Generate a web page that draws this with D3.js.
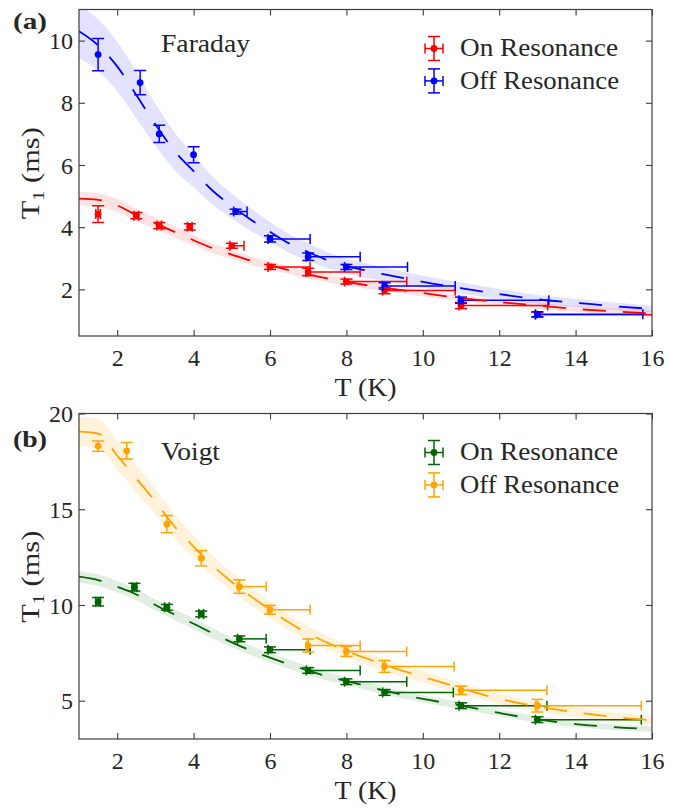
<!DOCTYPE html>
<html><head><meta charset="utf-8">
<script src="https://cdn.jsdelivr.net/npm/d3@7"></script>
<style>body{margin:0;background:#fff} svg{display:block}</style>
</head><body>
<svg id="chart" width="689" height="808"></svg>
<script>
// ---------------- DATA ----------------
const xTicks = [2, 4, 6, 8, 10, 12, 14, 16];
const yTicksA = [2, 4, 6, 8, 10];
const yTicksB = [5, 10, 15, 20];
const legendLabels = ["On Resonance", "Off Resonance"];
const panelTitles = ["Faraday", "Voigt"];
const panelTags = ["(a)", "(b)"];

// Panel (a) Faraday - On Resonance (red)
const aOnT    = [1.5, 2.5, 3.1, 3.9, 5.0, 6.0, 7.0, 8.0, 9.0, 11.0, 13.0];
const aOnV    = [4.42, 4.37, 4.05, 4.01, 3.40, 2.72, 2.56, 2.25, 1.96, 1.48, 1.18];
const aOnYerr = [0.27, 0.10, 0.10, 0.10, 0.08, 0.08, 0.12, 0.08, 0.10, 0.10, 0.08];
const aOnXneg = [0.06, 0.06, 0.06, 0.06, 0.05, 0.05, 0.05, 0.05, 0.05, 0.05, 0.05];
const aOnXpos = [0.06, 0.06, 0.06, 0.06, 0.32, 1.05, 1.36, 1.58, 1.85, 2.27, 3.30];
// Panel (a) Faraday - Off Resonance (blue)
const aOffT    = [1.5, 2.6, 3.1, 4.0, 5.1, 6.0, 7.0, 8.0, 9.0, 11.0, 13.0];
const aOffV    = [9.55, 8.65, 7.00, 6.33, 4.50, 3.62, 3.05, 2.72, 2.11, 1.65, 1.20];
const aOffYerr = [0.52, 0.39, 0.28, 0.26, 0.08, 0.10, 0.12, 0.08, 0.10, 0.10, 0.08];
const aOffXneg = [0, 0, 0, 0, 0.05, 0.05, 0.05, 0.05, 0.05, 0.05, 0.05];
const aOffXpos = [0, 0, 0, 0, 0.30, 1.05, 1.36, 1.60, 1.85, 2.30, 2.76];

// Panel (b) Voigt - On Resonance (green)
const bOnT    = [1.5, 2.45, 3.3, 4.2, 5.2, 6.0, 7.0, 8.0, 9.0, 11.0, 13.0];
const bOnV    = [10.17, 10.93, 9.88, 9.53, 8.23, 7.66, 6.58, 5.99, 5.43, 4.74, 4.01];
const bOnYerr = [0.22, 0.20, 0.15, 0.15, 0.15, 0.15, 0.15, 0.15, 0.15, 0.15, 0.15];
const bOnXneg = [0.06, 0.06, 0.06, 0.06, 0.05, 0.05, 0.05, 0.05, 0.05, 0.05, 0.05];
const bOnXpos = [0.06, 0.06, 0.06, 0.06, 0.70, 1.05, 1.36, 1.58, 1.80, 2.25, 2.72];
// Panel (b) Voigt - Off Resonance (orange)
const bOffT    = [1.5, 2.25, 3.3, 4.2, 5.2, 6.0, 7.0, 8.0, 9.0, 11.0, 13.0];
const bOffV    = [18.30, 18.05, 14.22, 12.44, 10.96, 9.75, 7.88, 7.57, 6.79, 5.54, 4.74];
const bOffYerr = [0.27, 0.43, 0.45, 0.40, 0.35, 0.23, 0.34, 0.26, 0.31, 0.22, 0.33];
const bOffXneg = [0, 0, 0, 0, 0.05, 0.05, 0.05, 0.05, 0.05, 0.05, 0.05];
const bOffXpos = [0, 0, 0, 0, 0.70, 1.05, 1.36, 1.58, 1.82, 2.25, 2.72];

// Fit curves and confidence-band half widths
const fitT = [1, 1.5, 2, 2.5, 3, 3.5, 4, 4.5, 5, 5.5, 6, 6.5, 7, 7.5, 8, 8.5, 9, 9.5, 10, 11, 12, 13, 14, 15, 16];
const aOnFit   = [4.92, 4.88, 4.70, 4.39, 4.12, 3.85, 3.58, 3.32, 3.12, 2.92, 2.77, 2.62, 2.48, 2.35, 2.24, 2.14, 2.05, 1.97, 1.88, 1.72, 1.59, 1.48, 1.37, 1.29, 1.22];
const aOnBand  = [0.22, 0.22, 0.21, 0.20, 0.19, 0.18, 0.17, 0.16, 0.15, 0.14, 0.14, 0.13, 0.13, 0.12, 0.12, 0.12, 0.11, 0.11, 0.11, 0.10, 0.10, 0.10, 0.10, 0.10, 0.10];
const aOffFit  = [10.30, 9.85, 9.17, 8.25, 7.30, 6.45, 5.80, 5.17, 4.68, 4.24, 3.85, 3.48, 3.20, 2.94, 2.75, 2.61, 2.48, 2.36, 2.24, 2.04, 1.85, 1.68, 1.57, 1.46, 1.37];
const aOffBand = [0.85, 0.83, 0.80, 0.75, 0.68, 0.60, 0.52, 0.45, 0.40, 0.36, 0.32, 0.30, 0.28, 0.26, 0.24, 0.23, 0.22, 0.21, 0.20, 0.18, 0.16, 0.14, 0.13, 0.12, 0.11];
const bOnFit   = [11.48, 11.30, 10.95, 10.55, 10.00, 9.50, 9.02, 8.52, 8.05, 7.62, 7.25, 6.90, 6.57, 6.27, 6.03, 5.78, 5.52, 5.30, 5.10, 4.74, 4.36, 4.02, 3.78, 3.62, 3.52];
const bOnBand  = [0.30, 0.30, 0.30, 0.29, 0.29, 0.28, 0.28, 0.27, 0.26, 0.25, 0.25, 0.24, 0.23, 0.22, 0.21, 0.21, 0.20, 0.20, 0.19, 0.18, 0.17, 0.17, 0.16, 0.15, 0.15];
const bOffFit  = [19.05, 18.95, 17.80, 16.60, 15.40, 14.10, 13.05, 12.05, 11.20, 10.45, 9.75, 9.08, 8.50, 8.03, 7.60, 7.22, 6.88, 6.54, 6.25, 5.65, 5.10, 4.70, 4.40, 4.15, 3.98];
const bOffBand = [0.78, 0.77, 0.74, 0.70, 0.66, 0.61, 0.57, 0.53, 0.49, 0.46, 0.43, 0.40, 0.38, 0.36, 0.34, 0.33, 0.32, 0.31, 0.30, 0.28, 0.27, 0.26, 0.25, 0.24, 0.24];

// ---------------- DRAWING ----------------
const FONT = "'Liberation Serif', 'Times New Roman', serif";
const TXT = "#262626";
const AX = "#3c3c3c";
const svg = d3.select("#chart");
const xL = 79, xR = 652;

const panels = [
  { top: 9.5, bottom: 336, ydom: [0.5, 11], yticks: yTicksA, title: panelTitles[0], tag: panelTags[0],
    tagY: 29, titleY: 52, titleW: 89, legY: 48.5,
    series: [
      { T: aOnT, V: aOnV, yerr: aOnYerr, xneg: aOnXneg, xpos: aOnXpos, fit: aOnFit, band: aOnBand, color: "#ff0000", bandOp: 0.11 },
      { T: aOffT, V: aOffV, yerr: aOffYerr, xneg: aOffXneg, xpos: aOffXpos, fit: aOffFit, band: aOffBand, color: "#0000ff", bandOp: 0.11 }
    ] },
  { top: 413.5, bottom: 739, ydom: [3, 20], yticks: yTicksB, title: panelTitles[1], tag: panelTags[1],
    tagY: 447, titleY: 460, titleW: 59, legY: 452.5,
    series: [
      { T: bOnT, V: bOnV, yerr: bOnYerr, xneg: bOnXneg, xpos: bOnXpos, fit: bOnFit, band: bOnBand, color: "#006400", bandOp: 0.11 },
      { T: bOffT, V: bOffV, yerr: bOffYerr, xneg: bOffXneg, xpos: bOffXpos, fit: bOffFit, band: bOffBand, color: "#ffa500", bandOp: 0.14 }
    ] }
];

function errBar(g, cx, cy, yLo, yHi, xLo, xHi, color) {
  const cw = 6, ch = 5;
  const s = g.append("g").attr("stroke", color).attr("stroke-width", 1.5).attr("fill", "none");
  if (yHi !== yLo) {
    s.append("line").attr("x1", cx).attr("x2", cx).attr("y1", yLo).attr("y2", yHi);
    s.append("line").attr("x1", cx - cw).attr("x2", cx + cw).attr("y1", yLo).attr("y2", yLo);
    s.append("line").attr("x1", cx - cw).attr("x2", cx + cw).attr("y1", yHi).attr("y2", yHi);
  }
  if (xHi !== xLo) {
    s.append("line").attr("x1", xLo).attr("x2", xHi).attr("y1", cy).attr("y2", cy);
    s.append("line").attr("x1", xLo).attr("x2", xLo).attr("y1", cy - ch).attr("y2", cy + ch);
    s.append("line").attr("x1", xHi).attr("x2", xHi).attr("y1", cy - ch).attr("y2", cy + ch);
  }
  g.append("circle").attr("cx", cx).attr("cy", cy).attr("r", 3.4).attr("fill", color);
}

panels.forEach((p, pi) => {
  const x = d3.scaleLinear().domain([1, 16]).range([xL, xR]);
  const y = d3.scaleLinear().domain(p.ydom).range([p.bottom, p.top]);
  const g = svg.append("g");
  const clipId = "clip" + pi;
  svg.append("clipPath").attr("id", clipId).append("rect")
    .attr("x", xL).attr("y", p.top).attr("width", xR - xL).attr("height", p.bottom - p.top);
  const plot = g.append("g").attr("clip-path", `url(#${clipId})`);

  // bands
  p.series.forEach(s => {
    const pts = fitT.map((t, i) => ({ t, lo: s.fit[i] - s.band[i], hi: s.fit[i] + s.band[i] }));
    plot.append("path").datum(pts)
      .attr("d", d3.area().curve(d3.curveMonotoneX).x(d => x(d.t)).y0(d => y(d.lo)).y1(d => y(d.hi)))
      .attr("fill", s.color).attr("fill-opacity", s.bandOp).attr("stroke", "none");
  });
  // error bars
  p.series.forEach(s => {
    s.T.forEach((t, i) => {
      errBar(plot, x(t), y(s.V[i]), y(s.V[i] - s.yerr[i]), y(s.V[i] + s.yerr[i]),
        x(t - s.xneg[i]), x(t + s.xpos[i]), s.color);
    });
  });
  // fits
  p.series.forEach(s => {
    plot.append("path").datum(fitT.map((t, i) => [t, s.fit[i]]))
      .attr("d", d3.line().curve(d3.curveMonotoneX).x(d => x(d[0])).y(d => y(d[1])))
      .attr("fill", "none").attr("stroke", s.color).attr("stroke-width", 1.8)
      .attr("stroke-dasharray", "23,17");
  });

  // axes
  const styleAxis = sel => {
    sel.select(".domain").remove();
    sel.selectAll(".tick line").attr("stroke", AX).attr("stroke-width", 1.1);
    sel.selectAll("text").attr("font-family", FONT).attr("font-size", 24).attr("fill", TXT);
  };
  g.append("g").attr("transform", `translate(0,${p.bottom})`)
    .call(d3.axisBottom(x).tickValues(xTicks).tickSizeInner(-6).tickSizeOuter(0).tickFormat(d3.format("d")))
    .call(styleAxis).call(s => s.selectAll("text").attr("y", 30).attr("dy", null));
  g.append("g").attr("transform", `translate(0,${p.top})`)
    .call(d3.axisTop(x).tickValues(xTicks).tickSizeInner(-6).tickSizeOuter(0).tickFormat(""))
    .call(styleAxis);
  g.append("g").attr("transform", `translate(${xL},0)`)
    .call(d3.axisLeft(y).tickValues(p.yticks).tickSizeInner(-6).tickSizeOuter(0).tickFormat(d3.format("d")))
    .call(styleAxis).call(s => s.selectAll("text").attr("x", -6).attr("dy", "0.34em"));
  g.append("g").attr("transform", `translate(${xR},0)`)
    .call(d3.axisRight(y).tickValues(p.yticks).tickSizeInner(-6).tickSizeOuter(0).tickFormat(""))
    .call(styleAxis);
  g.append("rect").attr("x", xL).attr("y", p.top).attr("width", xR - xL).attr("height", p.bottom - p.top)
    .attr("fill", "none").attr("stroke", AX).attr("stroke-width", 1.2);

  // axis labels
  g.append("text").attr("x", (xL + xR) / 2).attr("y", p.bottom + 60).attr("text-anchor", "middle")
    .attr("font-family", FONT).attr("font-size", 25).attr("fill", TXT)
    .attr("textLength", 62).attr("lengthAdjust", "spacingAndGlyphs").text("T (K)");
  const yl = g.append("text")
    .attr("transform", `translate(39,${(p.top + p.bottom) / 2 + 0.5}) rotate(-90)`)
    .attr("text-anchor", "middle").attr("font-family", FONT).attr("font-size", 25.5).attr("fill", TXT)
    .attr("textLength", 92).attr("lengthAdjust", "spacingAndGlyphs");
  yl.append("tspan").text("T");
  yl.append("tspan").attr("font-size", 17).attr("dy", 5).text("1");
  yl.append("tspan").attr("dy", -5).text(" (ms)");

  // tag, title
  g.append("text").attr("x", 13).attr("y", p.tagY).attr("font-family", FONT).attr("font-weight", "bold")
    .attr("font-size", 24).attr("fill", TXT).attr("textLength", 34).attr("lengthAdjust", "spacingAndGlyphs").text(p.tag);
  g.append("text").attr("x", 161).attr("y", p.titleY).attr("font-family", FONT).attr("font-size", 24.5)
    .attr("fill", TXT).attr("textLength", p.titleW).attr("lengthAdjust", "spacingAndGlyphs").text(p.title);

  // legend
  const lw = [158, 159];
  p.series.forEach((s, i) => {
    const cy = p.legY + i * 32.4, cx = 434;
    errBar(g, cx, cy, cy + 12, cy - 12, cx - 9, cx + 9, s.color);
    g.append("text").attr("x", 460).attr("y", cy + 7.8).attr("font-family", FONT).attr("font-size", 24.5)
      .attr("fill", TXT).attr("textLength", lw[i]).attr("lengthAdjust", "spacingAndGlyphs").text(legendLabels[i]);
  });
});
</script>
</body></html>
